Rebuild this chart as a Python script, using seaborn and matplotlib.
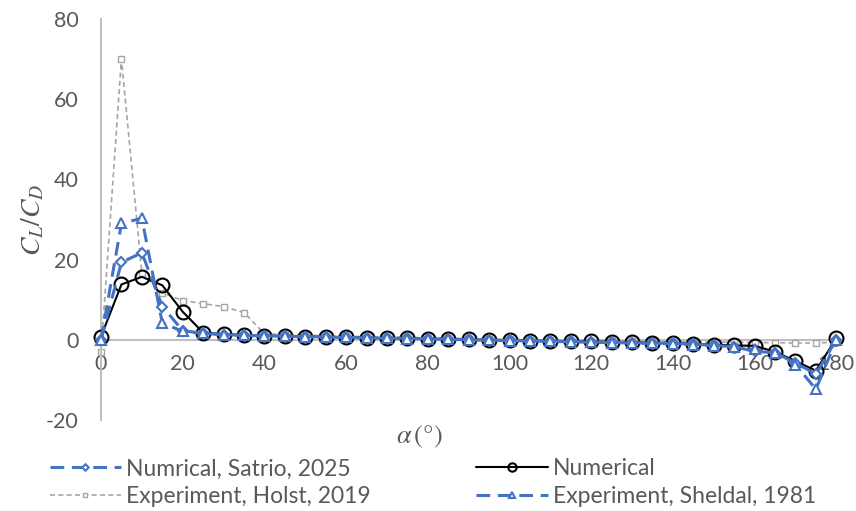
import seaborn as sns
import matplotlib.pyplot as plt
import pandas as pd
import numpy as np

# ----------------------------
# Data
# ----------------------------
alpha = [0, 5, 10, 15, 20, 25, 30, 35, 40, 45, 50, 55, 60, 65, 70, 75, 80, 85, 90,
         95, 100, 105, 110, 115, 120, 125, 130, 135, 140, 145, 150, 155, 160, 165,
         170, 175, 180]

satrio = [0.0, 19.3, 21.7, 8.3, 2.3, 1.6, 1.3, 1.1, 1.0, 0.9, 0.8, 0.7, 0.6, 0.5,
          0.4, 0.4, 0.3, 0.2, 0.1, 0.0, -0.1, -0.2, -0.3, -0.4, -0.5, -0.6, -0.7,
          -0.8, -0.9, -1.1, -1.4, -1.7, -2.9, -3.2, -5.8, -8.5, 0.0]

numerical = [0.8, 13.8, 15.7, 13.6, 7.0, 1.8, 1.4, 1.2, 1.0, 0.9, 0.8, 0.7, 0.6,
             0.5, 0.4, 0.4, 0.3, 0.2, 0.1, 0.0, -0.1, -0.2, -0.3, -0.4, -0.4, -0.5,
             -0.6, -0.7, -0.8, -1.0, -1.2, -1.4, -1.5, -3.0, -5.3, -7.7, 0.4]

holst = [-3.0, 70.0, 16.7, 11.7, 9.8, 9.0, 8.3, 6.8, 1.5, 1.3, 1.2, 1.0, 0.9, 0.8,
         0.7, 0.6, 0.5, 0.4, 0.3, 0.2, 0.1, 0.0, -0.1, -0.2, -0.3, -0.3, -0.4,
         -0.4, -0.5, -0.5, -0.6, -0.6, -0.7, -0.7, -0.8, -0.8, -0.6]

sheldahl = [0.0, 29.0, 30.3, 4.2, 2.1, 1.6, 1.3, 1.1, 1.0, 0.9, 0.8, 0.7, 0.6, 0.5,
            0.4, 0.3, 0.2, 0.1, 0.0, -0.1, -0.2, -0.3, -0.4, -0.5, -0.6, -0.7, -0.8,
            -0.9, -1.0, -1.2, -1.5, -1.8, -2.4, -3.2, -6.2, -12.3, 0.0]

df = pd.DataFrame({"alpha": alpha, "satrio": satrio, "numerical": numerical,
                   "holst": holst, "sheldahl": sheldahl})

# ----------------------------
# Style
# ----------------------------
sns.set_style("white")
plt.rcParams["font.family"] = ["Lato", "DejaVu Sans"]
plt.rcParams["mathtext.fontset"] = "stix"
plt.rcParams["axes.unicode_minus"] = False

text_color = "#595959"
axis_color = "#BFBFBF"
blue = "#4472C4"
gray = "#A5A5A5"

fig = plt.figure(figsize=(8.56, 5.11), dpi=100)
ax = fig.add_axes([0.118, 0.178, 0.859, 0.785])

# ----------------------------
# Series
# ----------------------------
common = dict(ax=ax, x="alpha", estimator=None, errorbar=None, sort=False)

sns.lineplot(data=df, y="holst", color=gray, linewidth=1.2,
             linestyle=(0, (3, 2)), marker="s", markersize=4.5,
             markerfacecolor="white", markeredgecolor=gray, markeredgewidth=1.0,
             label="Experiment, Holst, 2019", zorder=2, **common)
sns.lineplot(data=df, y="numerical", color="black", linewidth=1.5,
             marker="o", markersize=10, markerfacecolor="none",
             markeredgecolor="black", markeredgewidth=1.5,
             label="Numerical", zorder=3, **common)
sns.lineplot(data=df, y="satrio", color=blue, linewidth=2.2,
             linestyle=(0, (4.5, 2.5)), marker="D", markersize=5.5,
             markerfacecolor="white", markeredgecolor=blue, markeredgewidth=1.5,
             label="Numrical, Satrio, 2025", zorder=4, **common)
sns.lineplot(data=df, y="sheldahl", color=blue, linewidth=2.2,
             linestyle=(0, (4.5, 2.5)), marker="^", markersize=7,
             markerfacecolor="white", markeredgecolor=blue, markeredgewidth=1.5,
             label="Experiment, Sheldal, 1981", zorder=5, **common)

for line in ax.lines:
    line.set_clip_on(False)

# ----------------------------
# Axes
# ----------------------------
ax.set_xlim(0, 180)
ax.set_ylim(-20, 80)
ax.set_xticks([0, 20, 40, 60, 80, 100, 120, 140, 160, 180])
ax.set_yticks([-20, 0, 20, 40, 60, 80])

for side in ["top", "right"]:
    ax.spines[side].set_visible(False)
ax.spines["bottom"].set_position(("data", 0))
ax.spines["bottom"].set_color(axis_color)
ax.spines["bottom"].set_linewidth(1.5)
ax.spines["bottom"].set_zorder(1)
ax.spines["left"].set_color(axis_color)
ax.spines["left"].set_linewidth(1.5)

ax.tick_params(axis="x", length=0, pad=10, labelsize=15.5, labelcolor=text_color)
ax.tick_params(axis="y", length=0, pad=16, labelsize=15.5, labelcolor=text_color)

ax.set_xlabel("")
ax.set_ylabel(r"$C_L/C_D$", fontsize=20, color=text_color, labelpad=0)
fig.text(0.49, 0.145, r"$\alpha\,$(°)", fontsize=19, color=text_color,
         ha="center", va="center", family="STIXGeneral")

handles, labels = ax.get_legend_handles_labels()
order = [2, 0, 1, 3]
leg = ax.legend([handles[i] for i in order], [labels[i] for i in order],
                ncol=2, loc="upper left", bbox_to_anchor=(0.058, 0.103),
                bbox_transform=fig.transFigure, frameon=False, fontsize=16.5,
                labelcolor=text_color, handlelength=3.1, handletextpad=0.25,
                columnspacing=4.6, labelspacing=0.3, borderaxespad=0,
                borderpad=0, markerscale=0.6)

plt.savefig("out.png", dpi=100)
plt.close()
